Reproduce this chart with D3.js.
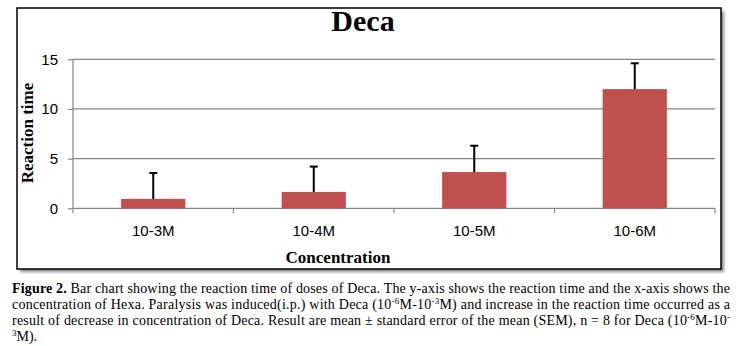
<!DOCTYPE html>
<html>
<head>
<meta charset="utf-8">
<script src="https://cdn.jsdelivr.net/npm/d3@7"></script>
<style>
  html, body { margin: 0; padding: 0; background: #fff; }
  svg { display: block; }
</style>
</head>
<body>
<div id="chart"></div>
<script>
// Reaction time per concentration of Deca (mean ± SEM)
const categories = ["10-3M", "10-4M", "10-5M", "10-6M"];
const meanValues = [0.95, 1.65, 3.65, 12.0];
const semValues = [2.6, 2.55, 2.65, 2.6];
const yTicks = [0, 5, 10, 15];

const W = 739, H = 346;
const svg = d3.select("#chart").append("svg").attr("width", W).attr("height", H);

// drop shadow for the chart frame
const defs = svg.append("defs");
const f = defs.append("filter").attr("id", "shadow").attr("x", "-5%").attr("y", "-5%").attr("width", "110%").attr("height", "115%");
f.append("feGaussianBlur").attr("stdDeviation", 1.6);

const frame = { x: 17, y: 8, w: 704, h: 261 };
svg.append("rect")
  .attr("x", frame.x + 3).attr("y", frame.y + 3)
  .attr("width", frame.w).attr("height", frame.h)
  .attr("fill", "#8a8a8a").attr("filter", "url(#shadow)");
svg.append("rect")
  .attr("x", frame.x).attr("y", frame.y)
  .attr("width", frame.w).attr("height", frame.h)
  .attr("fill", "#fff").attr("stroke", "#000").attr("stroke-width", 1.5);

const plot = { left: 73, right: 715, top: 59.3, bottom: 208.3 };

const x = d3.scaleBand().domain(categories).range([plot.left, plot.right]).paddingInner(0.6).paddingOuter(0.3);
const xb = d3.scaleBand().domain(categories).range([plot.left, plot.right]);
const y = d3.scaleLinear().domain([0, 15]).range([plot.bottom, plot.top]);

const grey = "#868686";

// horizontal gridlines
svg.append("g").selectAll("line").data(yTicks.filter(d => d > 0)).join("line")
  .attr("x1", plot.left).attr("x2", plot.right)
  .attr("y1", d => y(d)).attr("y2", d => y(d))
  .attr("stroke", grey).attr("stroke-width", 1.2);

// y axis
const yAxis = svg.append("g").attr("transform", `translate(${plot.left},0)`)
  .call(d3.axisLeft(y).tickValues(yTicks).tickSize(5).tickPadding(10).tickFormat(d3.format("d")));
yAxis.select(".domain").attr("stroke", grey).attr("stroke-width", 1.2).attr("d", `M0,${plot.top}V${plot.bottom}`);
yAxis.selectAll(".tick line").attr("stroke", grey).attr("stroke-width", 1.2);
yAxis.selectAll(".tick text")
  .attr("font-family", "'Liberation Sans', Arial, sans-serif").attr("font-size", 15).attr("fill", "#000");

// x axis: baseline with boundary ticks between categories
const xAxisG = svg.append("g");
xAxisG.append("line")
  .attr("x1", plot.left).attr("x2", plot.right)
  .attr("y1", plot.bottom).attr("y2", plot.bottom)
  .attr("stroke", grey).attr("stroke-width", 1.2);
const boundaries = categories.map(c => xb(c)).concat([xb(categories[categories.length - 1]) + xb.bandwidth()]);
xAxisG.selectAll("line.b").data(boundaries).join("line").attr("class", "b")
  .attr("x1", d => d).attr("x2", d => d)
  .attr("y1", plot.bottom).attr("y2", plot.bottom + 5)
  .attr("stroke", grey).attr("stroke-width", 1.2);
xAxisG.selectAll("text").data(categories).join("text")
  .attr("x", d => xb(d) + xb.bandwidth() / 2)
  .attr("y", 235.5)
  .attr("text-anchor", "middle")
  .attr("font-family", "'Liberation Sans', Arial, sans-serif").attr("font-size", 15).attr("fill", "#000")
  .text(d => d);

// bars
svg.append("g").selectAll("rect").data(categories).join("rect")
  .attr("x", d => x(d)).attr("width", x.bandwidth())
  .attr("y", (d, i) => y(meanValues[i]))
  .attr("height", (d, i) => plot.bottom - y(meanValues[i]))
  .attr("fill", "#C0504D");

// upper error bars
const eb = svg.append("g").attr("stroke", "#000").attr("stroke-width", 2);
categories.forEach((c, i) => {
  const cx = x(c) + x.bandwidth() / 2;
  const top = y(meanValues[i] + semValues[i]);
  eb.append("line").attr("x1", cx).attr("x2", cx).attr("y1", y(meanValues[i])).attr("y2", top);
  eb.append("line").attr("x1", cx - 4).attr("x2", cx + 4).attr("y1", top).attr("y2", top);
});

// title and axis titles
const serif = "'Liberation Serif', 'Times New Roman', serif";
svg.append("text").attr("x", 363).attr("y", 31).attr("text-anchor", "middle")
  .attr("font-family", serif).attr("font-weight", "bold").attr("font-size", 30).text("Deca");
svg.append("text").attr("transform", "translate(33,133) rotate(-90)").attr("text-anchor", "middle")
  .attr("font-family", serif).attr("font-weight", "bold").attr("font-size", 17).text("Reaction time");
svg.append("text").attr("x", 338).attr("y", 263).attr("text-anchor", "middle")
  .attr("font-family", serif).attr("font-weight", "bold").attr("font-size", 17).text("Concentration");

// figure caption (justified lines)
const captionLines = [
  { y: 292.7, just: true, parts: [{ t: "Figure 2.", b: true }, { t: " Bar chart showing the reaction time of doses of Deca. The y-axis shows the reaction time and the x-axis shows the" }] },
  { y: 308.7, just: true, parts: [{ t: "concentration of Hexa. Paralysis was induced(i.p.) with Deca (10" }, { t: "-6", sup: true }, { t: "M-10" }, { t: "-3", sup: true }, { t: "M) and increase in the reaction time occurred as a" }] },
  { y: 325.3, just: true, parts: [{ t: "result of decrease in concentration of Deca. Result are mean ± standard error of the mean (SEM), n = 8 for Deca (10" }, { t: "-6", sup: true }, { t: "M-10" }, { t: "-", sup: true }] },
  { y: 340.8, just: false, parts: [{ t: "3", sup: true }, { t: "M)." }] }
];
const cap = svg.append("g").attr("font-family", serif).attr("font-size", 14).attr("fill", "#000");
captionLines.forEach(line => {
  const t = cap.append("text").attr("x", 12).attr("y", line.y).attr("xml:space", "preserve");
  if (line.just) t.attr("textLength", 718).attr("lengthAdjust", "spacing");
  let raised = false;
  line.parts.forEach(p => {
    const ts = t.append("tspan").text(p.t);
    if (p.b) ts.attr("font-weight", "bold");
    if (p.sup && !raised) { ts.attr("dy", -5).attr("font-size", 9); raised = true; }
    else if (p.sup) { ts.attr("font-size", 9); }
    else if (raised) { ts.attr("dy", 5); raised = false; }
  });
});
</script>
</body>
</html>
